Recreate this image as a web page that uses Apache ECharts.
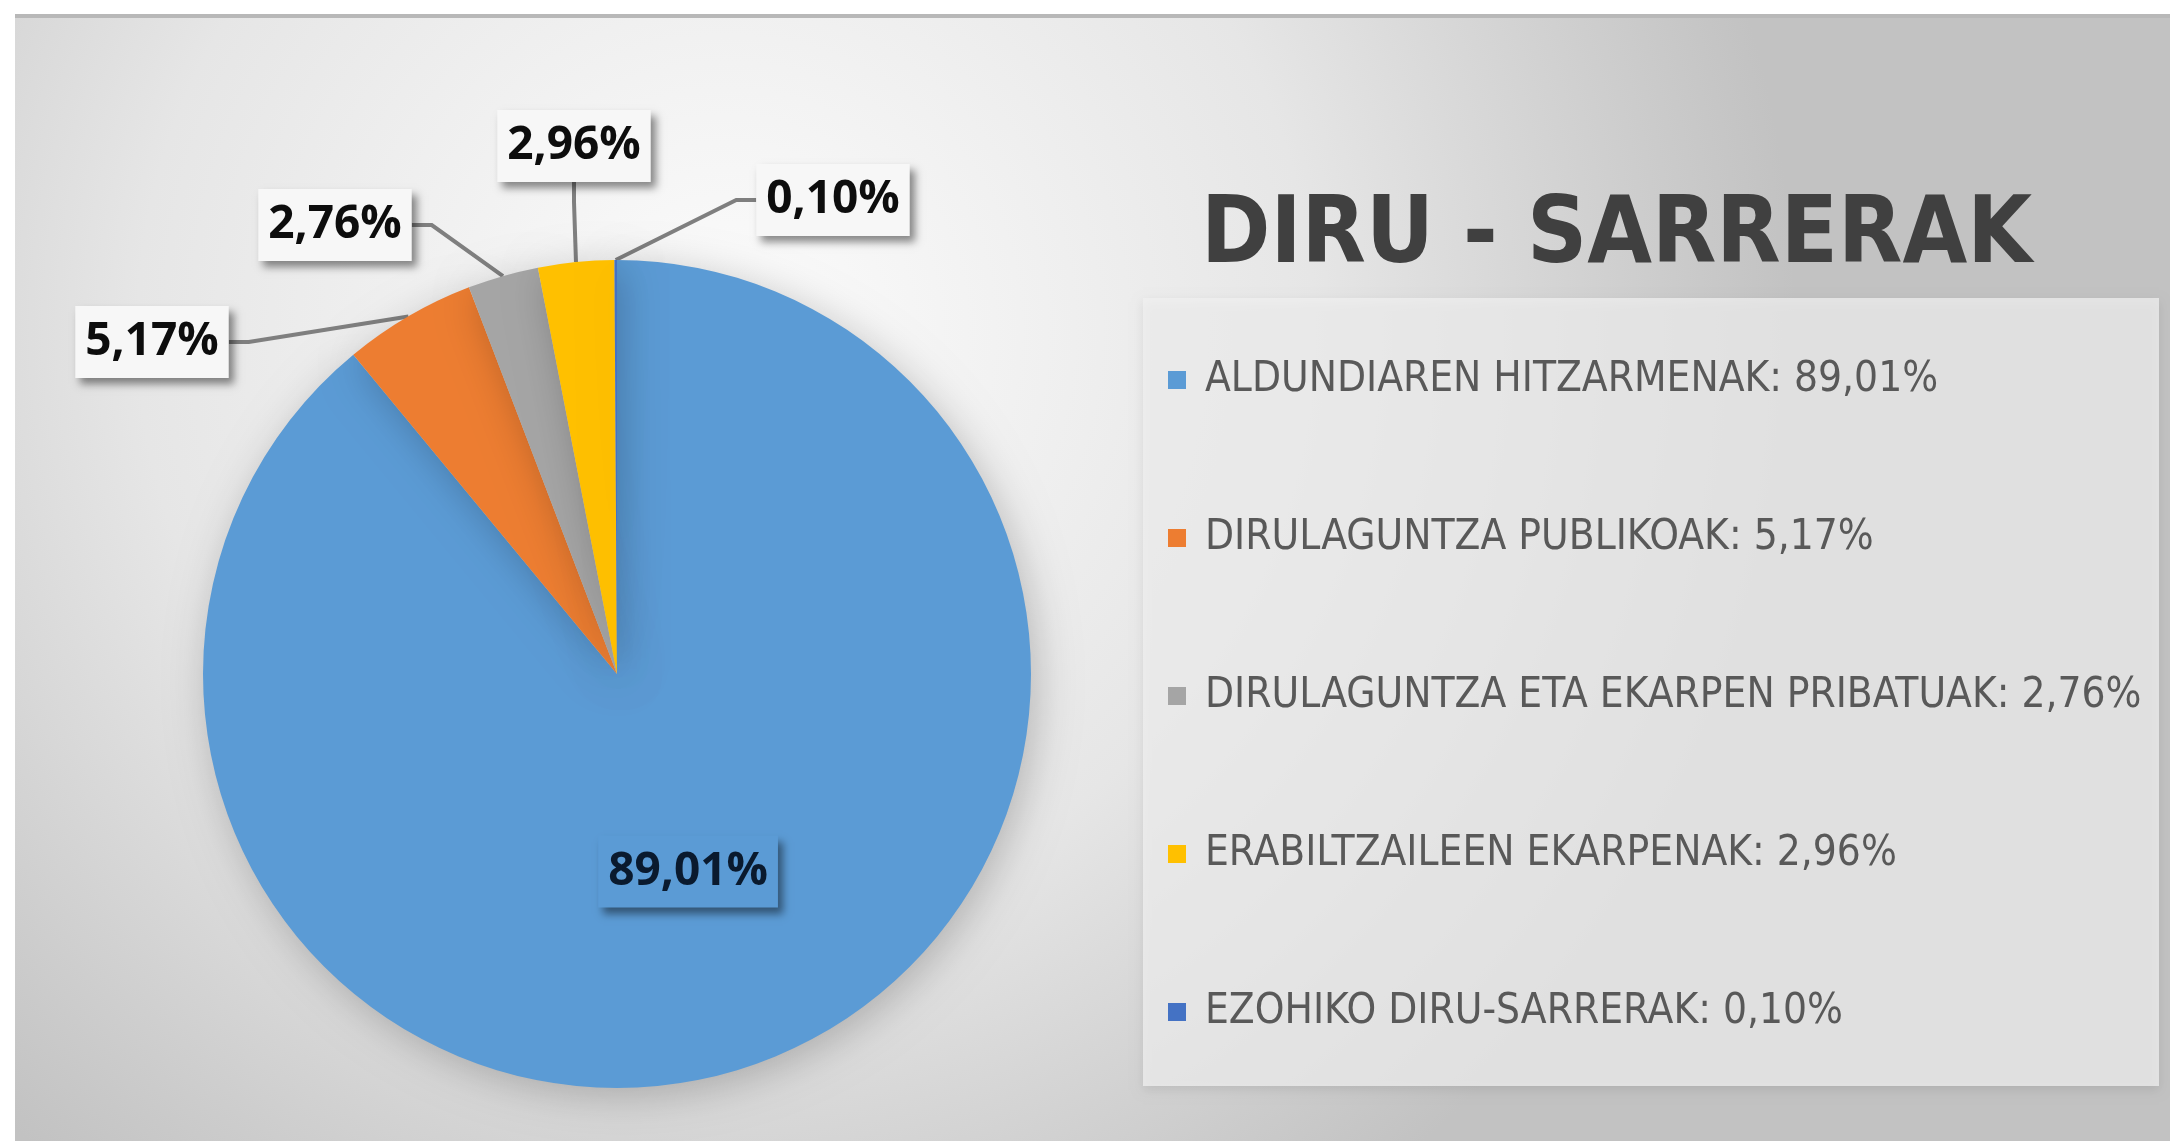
<!DOCTYPE html>
<html>
<head>
<meta charset="utf-8">
<style>
  html, body { margin: 0; padding: 0; background: #ffffff; }
  #chart { width: 2170px; height: 1141px; }
</style>
<script src="https://cdn.jsdelivr.net/npm/echarts@6/dist/echarts.min.js"></script>
</head>
<body>
<div id="chart"></div>
<script>
// datuak
const categories = [
  "ALDUNDIAREN HITZARMENAK",
  "DIRULAGUNTZA PUBLIKOAK",
  "DIRULAGUNTZA ETA EKARPEN PRIBATUAK",
  "ERABILTZAILEEN EKARPENAK",
  "EZOHIKO DIRU-SARRERAK"
];
const values = [89.01, 5.17, 2.76, 2.96, 0.10];
const colors = ["#5b9bd5", "#ed7d31", "#a5a5a5", "#ffc000", "#4472c4"];
// etiketen kokapena (null = barruan)
const labelPos = [null, [152, 342], [335, 225], [574, 146], [833, 200]];

function pct(v) {
  return v.toFixed(2).replace(".", ",") + "%";
}

const pieData = categories.map(function (name, i) {
  const item = { name: name, value: values[i], itemStyle: { color: colors[i] } };
  if (i === 0) {
    item.label = {
      position: "inside",
      backgroundColor: "#5b9bd5",
      color: "#0a1a2e",
      shadowColor: "rgba(0,0,0,0.45)",
      shadowBlur: 8,
      shadowOffsetX: 5,
      shadowOffsetY: 6
    };
  }
  return item;
});

const myChart = echarts.init(document.getElementById("chart"));
myChart.setOption({
  animation: false,
  graphic: [
    {
      type: "rect",
      z: -10,
      shape: { x: 15, y: 15, width: 2155, height: 1126 },
      style: {
        fill: {
          type: "radial", x: 0.33, y: 0.28, r: 0.95,
          colorStops: [
            { offset: 0, color: "#fcfcfc" },
            { offset: 0.55, color: "#e6e6e6" },
            { offset: 1, color: "#c2c2c2" }
          ]
        }
      }
    },
    {
      type: "line",
      z: -9,
      shape: { x1: 15, y1: 16, x2: 2170, y2: 16 },
      style: { stroke: "#b8b8b8", lineWidth: 4 }
    },
    {
      type: "rect",
      z: -8,
      shape: { x: 1143, y: 298, width: 1016, height: 788 },
      style: {
        fill: "rgba(240,240,240,0.75)",
        shadowColor: "rgba(0,0,0,0.12)",
        shadowBlur: 10,
        shadowOffsetY: 4
      }
    }
  ],
  title: {
    text: "DIRU - SARRERAK",
    left: 1196,
    top: 186,
    textStyle: {
      fontFamily: "'Liberation Sans Narrow', 'DejaVu Sans Condensed', sans-serif",
      fontWeight: "bold",
      fontSize: 93,
      color: "#404040"
    }
  },
  legend: {
    orient: "vertical",
    left: 1168,
    top: 359,
    itemWidth: 18,
    itemHeight: 18,
    itemGap: 116,
    icon: "rect",
    selectedMode: false,
    padding: 0,
    data: categories,
    textStyle: {
      fontFamily: "'Liberation Sans Narrow', 'DejaVu Sans Condensed', sans-serif",
      fontSize: 42,
      color: "#595959",
      padding: [0, 0, 0, 14]
    },
    formatter: function (name) {
      return name + ": " + pct(values[categories.indexOf(name)]);
    }
  },
  series: [
    {
      type: "pie",
      center: [617, 674],
      radius: 414,
      startAngle: 90,
      clockwise: true,
      emphasis: { disabled: true },
      itemStyle: {
        shadowColor: "rgba(0,0,0,0.22)",
        shadowBlur: 40,
        shadowOffsetX: 6,
        shadowOffsetY: 8
      },
      label: {
        show: true,
        position: "outside",
        formatter: function (p) { return pct(p.value); },
        fontFamily: "'Open Sans', sans-serif",
        fontWeight: "bold",
        fontSize: 46,
        color: "#0d0d0d",
        backgroundColor: "#f7f7f7",
        padding: [14, 10, 12, 10],
        shadowColor: "rgba(0,0,0,0.45)",
        shadowBlur: 8,
        shadowOffsetX: 5,
        shadowOffsetY: 6
      },
      labelLine: {
        show: true,
        length: 20,
        length2: 20,
        lineStyle: { color: "#7f7f7f", width: 4 }
      },
      labelLayout: function (params) {
        const p = labelPos[params.dataIndex];
        if (!p) return {};
        return { x: p[0], y: p[1], align: "center", verticalAlign: "middle" };
      },
      data: pieData
    }
  ]
});
</script>
</body>
</html>
